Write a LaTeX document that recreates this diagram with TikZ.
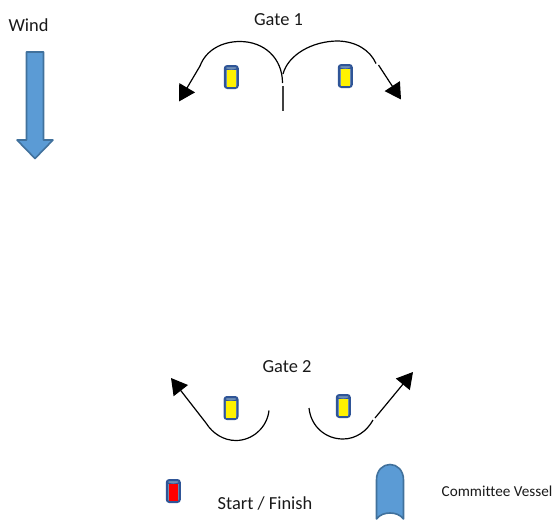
\documentclass[tikz,border=0pt]{standalone}
\usepackage{fontspec}
\setmainfont[Ligatures=NoCommon]{Carlito}
\usetikzlibrary{arrows.meta}
\definecolor{blueF}{HTML}{5B9BD5}
\definecolor{blueE}{HTML}{41719C}
\definecolor{buoyE}{HTML}{2F5597}
\definecolor{buoyT}{HTML}{6F8FB5}
\tikzset{
  course/.style={draw=black,line width=1.2pt,line cap=butt},
  coursearrow/.style={course,-{Triangle[length=16pt,width=18pt]}},
  shapeblue/.style={fill=blueF,draw=blueE,line width=1.6pt,line join=round},
  lab/.style={inner sep=0pt,text=black!90,font=\fontsize{18.4pt}{20pt}\selectfont},
  smalllab/.style={inner sep=0pt,text=black!90,font=\fontsize{15.2pt}{18pt}\selectfont},
  pics/buoy/.style={code={
    \path[fill=buoyT,draw=buoyE,line width=2pt,rounded corners=2.5pt]
      (-6.5,-11) rectangle (6.5,11);
    \draw[buoyE,line width=1.3pt] (-6.5,-8.5) .. controls (-3,-6.2) and (3,-6.2) .. (6.5,-8.5);
    \fill[#1] (-4.8,-7) rectangle (4.8,9.6);
  }}
}
\begin{document}
\begin{tikzpicture}[x=1pt,y=-1pt]
\useasboundingbox (0,0) rectangle (559,519);
% labels
\node[lab] (wind) at (28.5,25.5) {Wind};
\node[lab] (gate1) at (278.5,19.5) {Gate 1};
\node[lab] (gate2) at (287,367) {Gate 2};
\node[lab] (sf) at (265,503.5) {Start / Finish};
\node[smalllab] (cv) at (497,491) {Committee Vessel};
% wind arrow
\path[shapeblue] (26.5,52) -- (43.5,52) -- (43.5,140) -- (53,140) -- (35,158.5) -- (17,140) -- (26.5,140) -- cycle;
% buoys
\pic at (231.3,77) {buoy=yellow};
\pic at (345.3,76) {buoy=yellow};
\pic at (231,408) {buoy=yellow};
\pic at (343.3,406) {buoy=yellow};
\pic at (173.3,491) {buoy=red};
% committee vessel
\path[shapeblue] (376.5,519) -- (376.5,480) .. controls (376.5,470) and (383,464.5) .. (390,464.5)
  .. controls (397,464.5) and (403.5,470) .. (403.5,480) -- (403.5,519)
  .. controls (400,514.5) and (395,513) .. (390,513)
  .. controls (385,513) and (380,514.5) .. (376.5,519) -- cycle;
% gate 1 course
\coordinate (g1s) at (282.5,83);
\coordinate (g1ltop) at (240,41.5);
\coordinate (g1lk) at (200,66);
\coordinate (g1lt) at (179,101.5);
\coordinate (g1rs) at (283,74);
\coordinate (g1rtop) at (338,41);
\coordinate (g1rk) at (376,63.5);
\coordinate (g1rb) at (378.5,65);
\coordinate (g1rt) at (401,99.5);
\coordinate (g1a) at (283,86);
\coordinate (g1b) at (283,111);
\draw[course] (g1s) .. controls (282.5,58) and (264,41.5) .. (g1ltop) .. controls (222,41.5) and (206,50) .. (g1lk);
\draw[coursearrow] (g1lk) -- (g1lt);
\draw[course] (g1rs) .. controls (288,55) and (312,41) .. (g1rtop) .. controls (356,41.5) and (370,50) .. (g1rk);
\draw[coursearrow] (g1rb) -- (g1rt);
\draw[course,draw=black!75] (g1a) -- (g1b);
% gate 2 course
\coordinate (g2ls) at (269,410.5);
\coordinate (g2lbot) at (236,440.5);
\coordinate (g2lk) at (206,423);
\coordinate (g2lt) at (171,378);
\coordinate (g2rs) at (309,408);
\coordinate (g2rbot) at (343,439);
\coordinate (g2rk) at (373,420);
\coordinate (g2rb) at (375,418);
\coordinate (g2rt) at (413,372);
\draw[course] (g2ls) .. controls (267,428) and (252,440.5) .. (g2lbot) .. controls (224,440.5) and (213,434) .. (g2lk);
\draw[coursearrow] (g2lk) -- (g2lt);
\draw[course] (g2rs) .. controls (311,427) and (326,439) .. (g2rbot) .. controls (356,439) and (367,431) .. (g2rk);
\draw[coursearrow] (g2rb) -- (g2rt);
\end{tikzpicture}
\end{document}
